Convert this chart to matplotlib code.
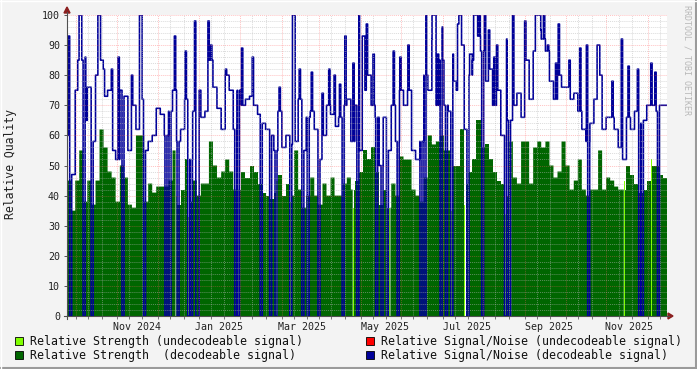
import numpy as np
import pandas as pd
import matplotlib
matplotlib.use('Agg')
import matplotlib.pyplot as plt
from matplotlib.patches import Rectangle, Polygon
from matplotlib.lines import Line2D

# ---------------- data ----------------
start = pd.Timestamp('2024-08-25')
bin_freq = '4349min'   # consolidated sample interval (~3 days)

snr = [60, 47, 75, 85, 65, 76, 58, 80, 85, 73,
       75, 55, 52, 75, 73, 55, 70, 62, 72, 55,
       58, 60, 69, 67, 60, 68, 75, 58, 62, 72,
       52, 68, 75, 66, 68, 85, 76, 69, 62, 80,
       75, 62, 75, 70, 72, 73, 70, 67, 64, 62,
       60, 55, 68, 56, 60, 57, 58, 72, 55, 66,
       68, 62, 52, 60, 70, 67, 63, 66, 70, 72,
       58, 70, 55, 75, 80, 70, 66, 50, 66, 55,
       70, 58, 75, 70, 75, 55, 52, 58, 80, 75,
       92, 70, 85, 70, 68, 78, 75, 90, 62, 80,
       85, 93, 88, 78, 82, 70, 75, 60, 65, 65,
       70, 74, 66, 85, 72, 88, 95, 92, 88, 78,
       72, 80, 76, 76, 72, 74, 68, 62, 58, 64,
       72, 80, 62, 66, 66, 62, 56, 52, 66, 62,
       68, 64, 65, 70, 70, 68, 70, 70]

strength = [45, 35, 45, 55, 38, 45, 37, 45, 62, 56,
            48, 46, 38, 50, 46, 37, 36, 60, 60, 38,
            44, 41, 43, 43, 43, 45, 55, 37, 42, 52,
            38, 45, 40, 44, 44, 58, 50, 46, 48, 52,
            48, 42, 42, 48, 46, 50, 48, 44, 41, 40,
            39, 41, 47, 40, 44, 40, 55, 42, 36, 40,
            46, 40, 37, 44, 40, 46, 40, 40, 44, 46,
            42, 45, 48, 55, 52, 56, 48, 37, 42, 36,
            44, 40, 53, 52, 52, 42, 40, 38, 46, 60,
            57, 58, 60, 55, 55, 50, 50, 62, 44, 48,
            52, 65, 56, 57, 52, 48, 45, 44, 40, 58,
            46, 44, 58, 58, 44, 56, 58, 56, 58, 50,
            46, 48, 58, 50, 42, 45, 52, 42, 40, 42,
            42, 55, 42, 46, 45, 43, 42, 42, 50, 47,
            44, 41, 42, 45, 50, 50, 47, 46]

# days (from start) where decodeable S/N dropped to zero
snr_dropout_day = [2, 12, 18, 41, 57, 73, 76, 82, 90, 92, 96, 97, 125, 127, 144,
                   151, 155, 166, 175, 179, 187, 205, 216, 230, 234, 238, 246,
                   263, 266, 278, 282, 286, 298, 309, 326, 329, 388, 426, 428, 440]

# short S/N peaks (day from start, value)
snr_peak_day = [1, 8, 9, 10, 13, 23, 24, 27, 33, 38, 48, 54, 55, 80, 88, 95, 105,
                107, 118, 130, 138, 158, 168, 169, 173, 182, 190, 195, 199, 203,
                207, 213, 217, 220, 221, 223, 228, 243, 248, 254, 267, 272, 273,
                274, 276, 279, 287, 291, 292, 293, 295, 300, 301, 303, 304, 305,
                307, 311, 314, 318, 320, 327, 332, 341, 349, 350, 351, 352, 355,
                358, 364, 366, 374, 382, 387, 395, 396, 406, 413, 418, 425, 435, 438]
snr_peak_val = [93, 85, 100, 100, 86, 100, 100, 82, 82, 86, 80, 100, 100, 93, 88, 98, 98,
                90, 82, 89, 86, 76, 100, 100, 82, 81, 74, 82, 80, 77,
                93, 84, 100, 93, 93, 97, 87, 88, 86, 90, 100, 100, 100,
                100, 87, 96, 87, 97, 100, 100, 90, 87, 87, 100, 100, 100,
                100, 100, 95, 86, 90, 92, 100, 98, 100, 100, 100, 100, 100,
                90, 84, 97, 85, 89, 90, 90, 90, 78, 92, 83, 82, 84, 81]

# undecodeable signal days (day from start, relative strength)
weak_day = [81, 90, 128, 156, 166, 213, 240, 286, 296, 326, 330, 415, 427, 435]
weak_strength = [40, 33, 56, 45, 38, 36, 36, 35, 37, 34, 40, 45, 40, 52]

y_ticks = list(range(0, 101, 10))
x_labels = ['Nov 2024', 'Jan 2025', 'Mar 2025', 'May 2025', 'Jul 2025', 'Sep 2025', 'Nov 2025']
x_label_dates = ['2024-10-16', '2024-12-16', '2025-02-16', '2025-04-19', '2025-06-19',
                 '2025-08-19', '2025-10-18']

legend_labels = ['Relative Strength (undecodeable signal)',
                 'Relative Signal/Noise (undecodeable signal)',
                 'Relative Strength  (decodeable signal)',
                 'Relative Signal/Noise (decodeable signal)']
legend_colors = ['#80ff00', '#ff0000', '#006600', '#000099']

# ---------------- build step series ----------------
bin_dates = pd.date_range(start, periods=len(snr), freq=bin_freq)
end = bin_dates[-1] + pd.Timedelta(bin_freq)
fine = pd.date_range(start, end, freq='3h')
idx = np.clip(np.searchsorted(bin_dates.values, fine.values, side='right') - 1, 0, len(snr) - 1)
snr_f = np.asarray(snr, float)[idx]
str_f = np.asarray(strength, float)[idx]
t_days = np.asarray((fine - start) / pd.Timedelta('1D'), float)
day_idx = np.floor(t_days).astype(int)
for d, v in zip(snr_peak_day, snr_peak_val):
    snr_f[day_idx == d] = v
for d in snr_dropout_day:
    snr_f[(t_days >= d) & (t_days < d + 1.4)] = 0
weak_f = np.full(len(fine), np.nan)
for d, v in zip(weak_day, weak_strength):
    weak_f[day_idx == d] = v
    str_f[day_idx == d] = np.nan

# ---------------- figure ----------------
W, H = 697, 369
fig = plt.figure(figsize=(W / 100, H / 100), dpi=100, facecolor='#f3f3f3')
FONT = 'DejaVu Sans Mono'

def fx(x):
    return x / W

def fy(y):
    return 1 - y / H

L, R, T, B = 67, 667, 15, 316
ax = fig.add_axes([fx(L), fy(B), fx(R) - fx(L), (B - T) / H])
ax.set_facecolor('white')
xmin = start
xmax = start + pd.Timedelta(days=(R - L) / 1.342)
ax.set_xlim(xmin, xmax)
ax.set_ylim(0, 100)
for s in ax.spines.values():
    s.set_visible(False)

ax.fill_between(fine, 0, str_f, step='post', color='#006600', lw=0, zorder=2)
ax.fill_between(fine, 0, weak_f, step='post', color='#80ff00', lw=0, zorder=2)
ax.step(fine, snr_f, where='post', color='#000099', lw=1.15, zorder=3, snap=False)

# grid (drawn over the graph like rrdtool)
months = pd.date_range('2024-09-01', '2025-12-01', freq='MS')
minor_days = []
for m in pd.date_range('2024-08-01', '2025-12-01', freq='MS'):
    minor_days += [m + pd.Timedelta(days=9), m + pd.Timedelta(days=19)]
dot = (0, (1, 1))
for d in minor_days:
    if xmin < d < xmax:
        ax.axvline(d, color='#b8b8b8', lw=0.7, ls=dot, alpha=0.5, zorder=4)
for v in range(2, 100, 2):
    if v % 10:
        ax.axhline(v, color='#b8b8b8', lw=0.7, ls=dot, alpha=0.5, zorder=4)
for d in months:
    if xmin < d < xmax:
        ax.axvline(d, color='#ff6060', lw=0.7, ls=dot, alpha=0.38, zorder=4)
for v in y_ticks[1:]:
    ax.axhline(v, color='#ff6060', lw=0.7, ls=dot, alpha=0.38, zorder=4)

ax.set_yticks(y_ticks)
ax.set_yticklabels([str(v) for v in y_ticks], fontsize=7.2, family=FONT, color='#222222')
ax.set_xticks(pd.to_datetime(x_label_dates))
ax.set_xticklabels(x_labels, fontsize=7.2, family=FONT, color='#222222')
tick_days = [d for d in list(months) + minor_days if xmin < d < xmax]
ax.set_xticks(tick_days, minor=True)
ax.tick_params(axis='x', which='major', length=0, pad=4)
ax.tick_params(axis='x', which='minor', length=2.5, width=0.7, color='#777777')
ax.tick_params(axis='y', length=2, width=0.7, color='#555555', pad=3)

# axes lines with arrows
fig.add_artist(Line2D([fx(64), fx(669)], [fy(B), fy(B)], color='#505050', lw=0.8))
fig.add_artist(Line2D([fx(L), fx(L)], [fy(B + 3), fy(12)], color='#505050', lw=0.8))
fig.add_artist(Polygon([[fx(668), fy(B - 3)], [fx(673), fy(B)], [fx(668), fy(B + 3)]],
                       closed=True, color='#8b1f1f', transform=fig.transFigure))
fig.add_artist(Polygon([[fx(L - 3), fy(13)], [fx(L), fy(7)], [fx(L + 3), fy(13)]],
                       closed=True, color='#8b1f1f', transform=fig.transFigure))

fig.text(fx(11), fy(164), 'Relative Quality', rotation=90, ha='center', va='center',
         fontsize=8.3, family=FONT, color='#222222')
fig.text(fx(687), fy(5), 'RRDTOOL / TOBI OETIKER', rotation=270, ha='center', va='top',
         fontsize=6, family=FONT, color='#b8b8b8')

# legend
pos = [(15, 341), (366, 341), (15, 355), (366, 355)]
for (x, y), lab, col in zip(pos, legend_labels, legend_colors):
    fig.add_artist(Rectangle((fx(x), fy(y + 4)), 8 / W, 8 / H, facecolor=col,
                             edgecolor='#000000', lw=0.6, transform=fig.transFigure))
    fig.text(fx(x + 15), fy(y), lab, ha='left', va='center', fontsize=8.4,
             family=FONT, color='#111111')

# frame
fig.add_artist(Line2D([0, 1], [fy(368), fy(368)], color='#9a9a9a', lw=1.5))
fig.add_artist(Line2D([fx(696), fx(696)], [0, 1], color='#9a9a9a', lw=1.5))
fig.add_artist(Line2D([0, 1], [fy(0.5), fy(0.5)], color='#ffffff', lw=1.0))
fig.add_artist(Line2D([fx(0.5), fx(0.5)], [0, 1], color='#ffffff', lw=1.0))

fig.savefig('out.png', dpi=100, facecolor=fig.get_facecolor())
